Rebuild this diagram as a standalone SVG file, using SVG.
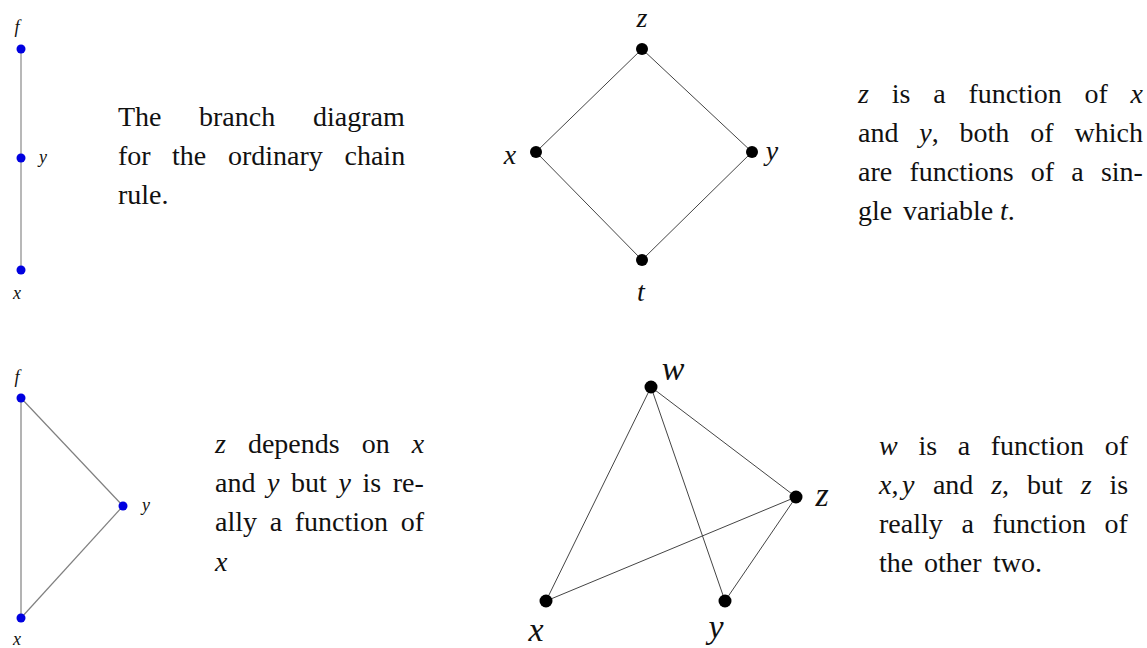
<svg xmlns="http://www.w3.org/2000/svg" width="1147" height="648" viewBox="0 0 1147 648">
<style>
.t{font-family:"Liberation Serif","DejaVu Serif",serif;font-size:28px;fill:#111}
.i{font-style:italic}
.sl{font-family:"Liberation Serif","DejaVu Serif",serif;font-style:italic;font-size:18px;fill:#111;text-anchor:middle}
.ml{font-family:"Liberation Serif","DejaVu Serif",serif;font-style:italic;font-size:28px;fill:#111;text-anchor:middle}
.ll{font-family:"Liberation Serif","DejaVu Serif",serif;font-style:italic;font-size:34px;fill:#111;text-anchor:middle}
.bd{fill:#0000e0}
.kd{fill:#000}
.e1{stroke:#a0a0a0;stroke-width:1.5;fill:none}
.e3{stroke:#808080;stroke-width:1.2;fill:none}
.e2{stroke:#444;stroke-width:1;fill:none}
</style>
<rect width="1147" height="648" fill="#fff"/>
<g id="connectors">
<line class="e1" x1="21" y1="49" x2="21" y2="270"/>
<line class="e2" x1="642" y1="49" x2="536" y2="152"/>
<line class="e2" x1="642" y1="49" x2="752" y2="152"/>
<line class="e2" x1="536" y1="152" x2="642" y2="260"/>
<line class="e2" x1="752" y1="152" x2="642" y2="260"/>
<line class="e3" x1="21" y1="398" x2="21" y2="618"/>
<line class="e3" x1="21" y1="398" x2="123" y2="506"/>
<line class="e3" x1="123" y1="506" x2="21" y2="618"/>
<line class="e2" x1="651" y1="387" x2="546" y2="601"/>
<line class="e2" x1="651" y1="387" x2="725" y2="601"/>
<line class="e2" x1="651" y1="387" x2="796" y2="497"/>
<line class="e2" x1="796" y1="497" x2="546" y2="601"/>
<line class="e2" x1="796" y1="497" x2="725" y2="601"/>
</g>
<g id="p1-f"><circle class="bd" cx="21" cy="49" r="4.5"/><text class="sl" x="17" y="33">f</text></g>
<g id="p1-y"><circle class="bd" cx="21" cy="158" r="4.5"/><text class="sl" x="43" y="163">y</text></g>
<g id="p1-x"><circle class="bd" cx="21" cy="270" r="4.5"/><text class="sl" x="17" y="299">x</text></g>
<g id="p1-text"><text class="t" y="126"><tspan x="118">The</tspan><tspan x="199">branch</tspan><tspan x="313">diagram</tspan></text>
<text class="t" y="165"><tspan x="118">for</tspan><tspan x="172">the</tspan><tspan x="228">ordinary</tspan><tspan x="344.5">chain</tspan></text>
<text class="t" y="204"><tspan x="118">rule.</tspan></text></g>
<g id="p2-z"><circle class="kd" cx="642" cy="49" r="6"/><text class="ml" x="642" y="27">z</text></g>
<g id="p2-x"><circle class="kd" cx="536" cy="152" r="6"/><text class="ml" x="510" y="164">x</text></g>
<g id="p2-y"><circle class="kd" cx="752" cy="152" r="6"/><text class="ml" x="772" y="160">y</text></g>
<g id="p2-t"><circle class="kd" cx="642" cy="260" r="6"/><text class="ml" x="641" y="301">t</text></g>
<g id="p2-text"><text class="t" y="103"><tspan x="858" class="i">z</tspan><tspan x="891.7">is</tspan><tspan x="933.2">a</tspan><tspan x="968.4">function</tspan><tspan x="1084.5">of</tspan><tspan x="1130.6" class="i">x</tspan></text>
<text class="t" y="142"><tspan x="858">and</tspan><tspan x="919.3" class="i">y</tspan><tspan>,</tspan><tspan x="959.6">both</tspan><tspan x="1030.3">of</tspan><tspan x="1074.5">which</tspan></text>
<text class="t" y="181"><tspan x="858">are</tspan><tspan x="909.4">functions</tspan><tspan x="1030.8">of</tspan><tspan x="1071.3">a</tspan><tspan x="1100.9">sin-</tspan></text>
<text class="t" y="220"><tspan x="858">gle</tspan><tspan x="903">variable</tspan><tspan x="1000" class="i">t</tspan><tspan>.</tspan></text></g>
<g id="p3-f"><circle class="bd" cx="21" cy="398" r="4.5"/><text class="sl" x="17" y="383">f</text></g>
<g id="p3-y"><circle class="bd" cx="123" cy="506" r="4.5"/><text class="sl" x="146" y="511">y</text></g>
<g id="p3-x"><circle class="bd" cx="21" cy="618" r="4.5"/><text class="sl" x="17" y="645">x</text></g>
<g id="p3-text"><text class="t" y="453"><tspan x="215" class="i">z</tspan><tspan x="247.9">depends</tspan><tspan x="361.7">on</tspan><tspan x="411.7" class="i">x</tspan></text>
<text class="t" y="492"><tspan x="215">and</tspan><tspan x="267" class="i">y</tspan><tspan x="291">but</tspan><tspan x="338.4" class="i">y</tspan><tspan x="362.4">is</tspan><tspan x="392.7">re-</tspan></text>
<text class="t" y="531"><tspan x="215">ally</tspan><tspan x="269.7">a</tspan><tspan x="294.8">function</tspan><tspan x="400.8">of</tspan></text>
<text class="t" y="571"><tspan x="215" class="i">x</tspan></text></g>
<g id="p4-w"><circle class="kd" cx="651" cy="387" r="6.5"/><text class="ll" x="673" y="380">w</text></g>
<g id="p4-z"><circle class="kd" cx="796" cy="497" r="6.5"/><text class="ll" x="822" y="506">z</text></g>
<g id="p4-x"><circle class="kd" cx="546" cy="601" r="6.5"/><text class="ll" x="536" y="641">x</text></g>
<g id="p4-y"><circle class="kd" cx="725" cy="601" r="6.5"/><text class="ll" x="716" y="638">y</text></g>
<g id="p4-text"><text class="t" y="455"><tspan x="879" class="i">w</tspan><tspan x="918.4">is</tspan><tspan x="957.7">a</tspan><tspan x="990.8">function</tspan><tspan x="1104.7">of</tspan></text>
<text class="t" y="494"><tspan x="879" class="i">x</tspan><tspan>,</tspan><tspan x="902" class="i">y</tspan><tspan x="932.9">and</tspan><tspan x="991.2" class="i">z</tspan><tspan>,</tspan><tspan x="1027">but</tspan><tspan x="1080.7" class="i">z</tspan><tspan x="1109.5">is</tspan></text>
<text class="t" y="533"><tspan x="879">really</tspan><tspan x="961.5">a</tspan><tspan x="992.6">function</tspan><tspan x="1104.6">of</tspan></text>
<text class="t" y="572"><tspan x="879">the</tspan><tspan x="924">other</tspan><tspan x="993">two.</tspan></text></g>
</svg>
